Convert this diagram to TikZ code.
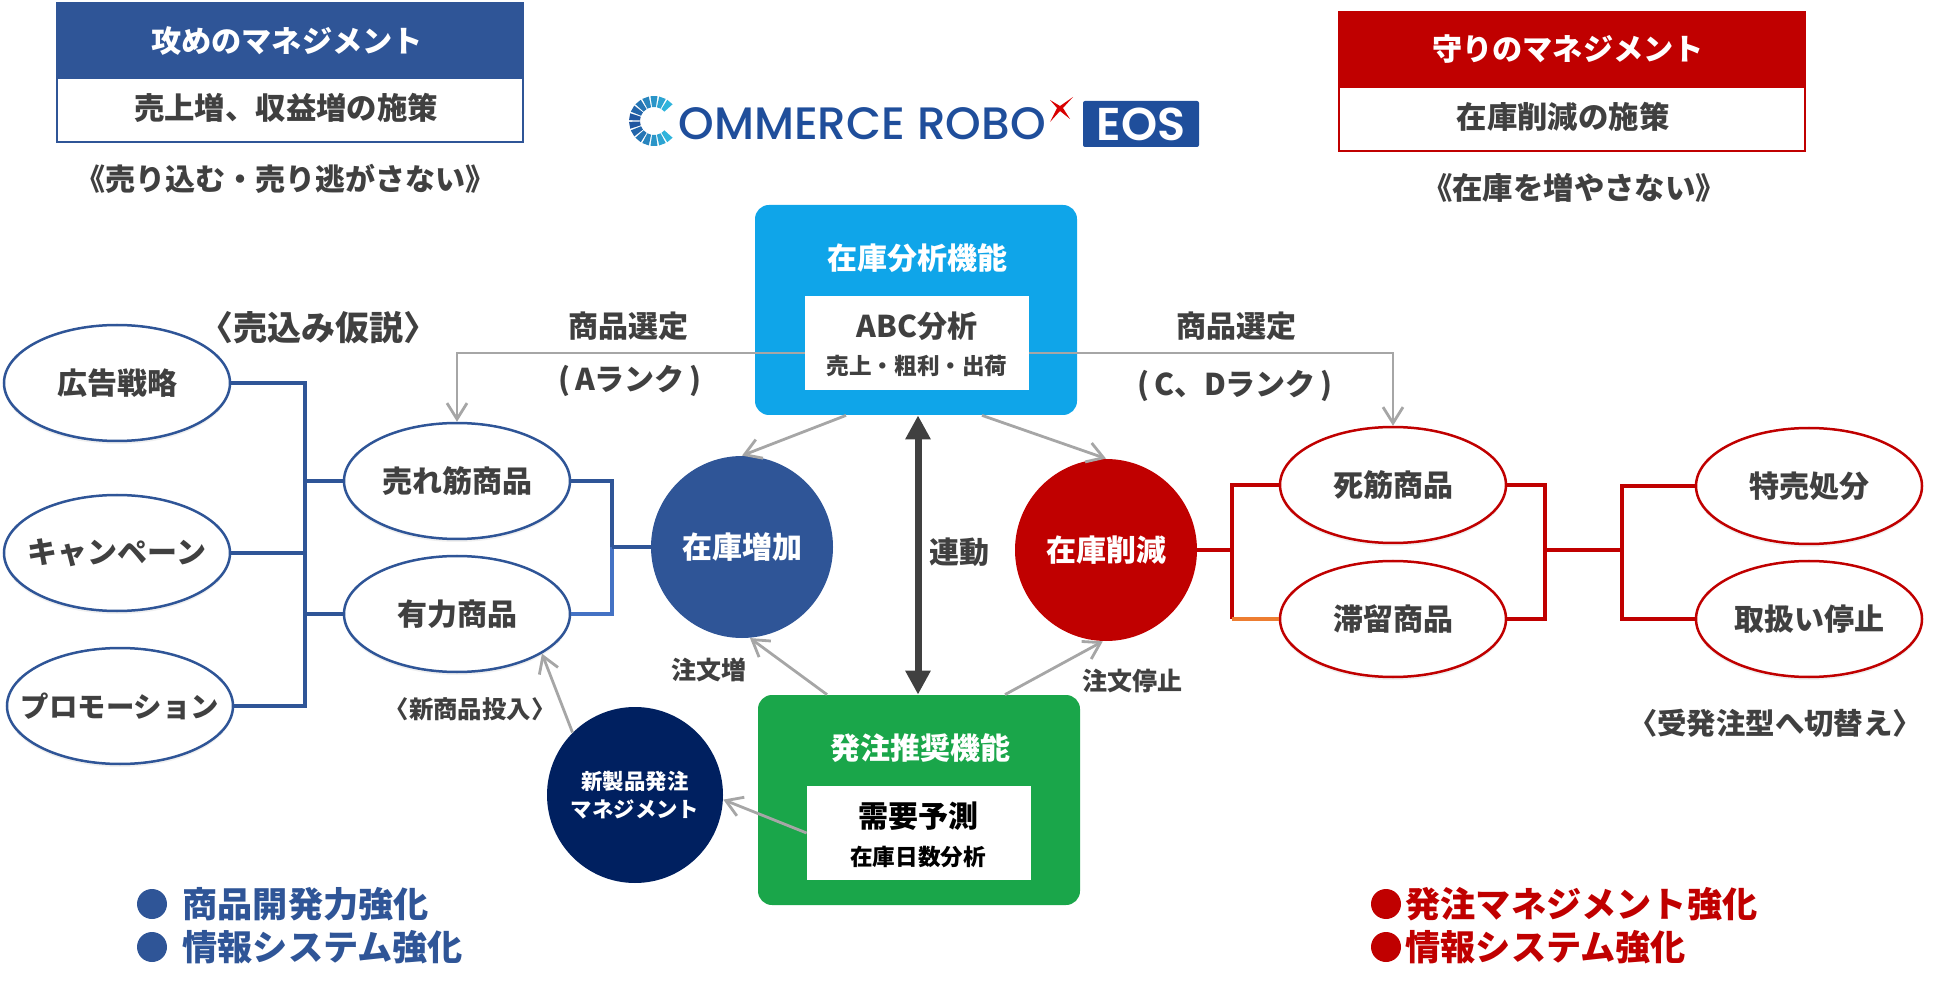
\documentclass[tikz,border=0pt]{standalone}
\usepackage{fontspec}
\setmainfont{Noto Sans CJK JP}
\newfontfamily\logofont[UprightFont={* Medium},BoldFont={* SemiBold}]{Poppins}
\usetikzlibrary{arrows.meta,shapes.geometric,shadows}
\definecolor{atkblue}{HTML}{2F5597}
\definecolor{atklight}{HTML}{4472C4}
\definecolor{defred}{HTML}{C00000}
\definecolor{inkgray}{HTML}{404040}
\definecolor{linegray}{HTML}{A6A6A6}
\definecolor{skyfn}{HTML}{0FA5E9}
\definecolor{greenfn}{HTML}{1AA64A}
\definecolor{navyfn}{HTML}{002060}
\definecolor{logoblue}{HTML}{1F4E9B}
\definecolor{logocyan}{HTML}{2FB4DC}
\definecolor{orangeseg}{HTML}{ED7D31}
\newcommand{\fsz}[1]{\fontsize{#1}{#1}\selectfont\bfseries}
\begin{document}
\begin{tikzpicture}[x=.5pt,y=-.5pt,>={Straight Barb[length=8pt,width=10pt]},
  txt/.style={text=inkgray,font=\fsz{15},inner sep=0pt},
  oval/.style={ellipse,draw=#1,line width=1.25pt,fill=white,minimum width=113pt,minimum height=58pt,inner xsep=-25pt,inner ysep=-10pt,
    text=inkgray,font=\fsz{15},drop shadow={opacity=.12,shadow xshift=0pt,shadow yshift=-1.5pt}},
  disc/.style={circle,fill=#1,text=white,font=\fsz{15},minimum size=91pt,inner sep=0pt},
  fnbox/.style={rounded corners=7pt,fill=#1,minimum width=161pt,inner sep=0pt},
  inbox/.style={fill=white,minimum width=112pt,minimum height=47pt,inner sep=0pt},
  head/.style={fill=#1,minimum width=234pt,minimum height=38pt,inner sep=0pt},
  sub/.style={draw=#1,line width=1.1pt,fill=white,minimum width=233pt,minimum height=32pt,inner sep=0pt},
  bar/.style={draw=#1,line width=2pt},
  thin/.style={draw=linegray,line width=1.4pt,->},
  dot/.style={circle,fill=#1,minimum size=15pt,inner sep=0pt},
  note/.style={text=#1,font=\fsz{17.6},inner sep=0pt,anchor=west}]
 \useasboundingbox (0,0) rectangle (1950,994);
 % attack and defence headers
 \node[head=atkblue] (atkhead) at (290,40) {};
 \node[txt,text=white,font=\fsz{15.1}] (atktitle) at (287,41) {攻めのマネジメント};
 \node[sub=atkblue] (atksub) at (290,110) {};
 \node[txt,font=\fsz{15.2}] (atksubtxt) at (286,108) {売上増、収益増の施策};
 \node[txt] (atkmotto) at (285,179) {《売り込む・売り逃がさない》};
 \node[head=defred] (defhead) at (1572,49) {};
 \node[txt,text=white,font=\fsz{15.1}] (deftitle) at (1568,49) {守りのマネジメント};
 \node[sub=defred] (defsub) at (1572,119) {};
 \node[txt,font=\fsz{15.2}] (defsubtxt) at (1563,117) {在庫削減の施策};
 \node[txt,font=\fsz{15.2}] (defmotto) at (1574,188) {《在庫を増やさない》};
 % logo
 \foreach \a in {50,70,...,310} {
  \pgfmathsetmacro\mixv{abs(\a-180)/130*100}
  \fill[logocyan!\mixv!logoblue,shift={(654,121)}] (\a-8:14) -- (\a-8:25) -- (\a+8:25) -- (\a+8:14) -- cycle;
 }
 \node[inner sep=0pt,anchor=west,text=logoblue,font=\logofont\fontsize{22.7}{22.7}\selectfont] (logotxt) at (678,124) {OMMERCE ROBO};
 \fill[red!85!black] (1073,97) -- (1063,108) -- (1070,119) -- (1060,111) -- (1050,122) -- (1057,108) -- (1050,100) -- (1060,106) -- cycle;
 \node[fill=logoblue,rounded corners=1pt,text=white,minimum width=58pt,minimum height=23pt,inner sep=0pt,
   font=\logofont\bfseries\fontsize{23}{23}\selectfont] (eos) at (1141,124) {EOS};
 % function boxes
 \node[fnbox=skyfn,minimum height=105pt] (analysis) at (916,310) {};
 \node[txt,text=white] (analysistxt) at (917,258) {在庫分析機能};
 \node[inbox] (abc) at (917,343) {};
 \node[txt] (abctxt) at (917,326) {ABC分析};
 \node[txt,font=\fsz{11.3}] (abcsub) at (917,366) {売上・粗利・出荷};
 \node[fnbox=greenfn,minimum height=105pt] (recommend) at (919,800) {};
 \node[txt,text=white] (recommendtxt) at (920,748) {発注推奨機能};
 \node[inbox] (demand) at (919,833) {};
 \node[txt,text=black] (demandtxt) at (918,816) {需要予測};
 \node[txt,text=black,font=\fsz{11.3}] (demandsub) at (918,857) {在庫日数分析};
 % left ovals
 \node[oval=atkblue] (adv) at (117,383) {広告戦略};
 \node[oval=atkblue] (camp) at (117,553) {キャンペーン};
 \node[oval=atkblue,font=\fsz{14.2}] (promo) at (120,706) {プロモーション};
 \node[oval=atkblue] (ureru) at (457,481) {売れ筋商品};
 \node[oval=atkblue] (yuryoku) at (457,614) {有力商品};
 % right ovals
 \node[oval=defred] (shisuji) at (1393,485) {死筋商品};
 \node[oval=defred] (teitai) at (1393,619) {滞留商品};
 \node[oval=defred] (tokubai) at (1809,486) {特売処分};
 \node[oval=defred] (toriatsu) at (1809,619) {取扱い停止};
 % centre discs
 \node[disc=atkblue] (inc) at (742,547) {在庫増加};
 \node[disc=defred] (dec) at (1106,550) {在庫削減};
 \node[disc=navyfn,minimum size=88pt,font=\fsz{10.7},align=center] (navy) at (635,795) {新製品発注\\[3pt]マネジメント};
 % blue brackets
 \coordinate (busa) at (305,0);
 \coordinate (busb) at (612,0);
 \draw[bar=atkblue] (adv.east) -- (adv.east -| busa) -- (promo.east -| busa) -- (promo.east);
 \draw[bar=atkblue] (camp.east) -- (camp.east -| busa);
 \draw[bar=atkblue] (ureru.west) -- (ureru.west -| busa);
 \draw[bar=atkblue] (yuryoku.west) -- (yuryoku.west -| busa);
 \draw[bar=atkblue] (ureru.east) -- (ureru.east -| busb) -- (inc.west -| busb);
 \draw[bar=atklight] (inc.west -| busb) -- (yuryoku.east -| busb) -- (yuryoku.east);
 \draw[bar=atkblue] (inc.west) -- (inc.west -| busb);
 % red brackets
 \coordinate (busc) at (1232,0);
 \coordinate (busd) at (1545,0);
 \coordinate (buse) at (1622,0);
 \draw[bar=defred] (dec.east) -- (dec.east -| busc);
 \draw[bar=defred] (shisuji.west) -- (shisuji.west -| busc) -- (teitai.west -| busc);
 \draw[bar=orangeseg] (teitai.west -| busc) -- (teitai.west);
 \draw[bar=defred] (shisuji.east) -- (shisuji.east -| busd) -- (teitai.east -| busd) -- (teitai.east);
 \draw[bar=defred] (dec.east -| busd) -- (dec.east -| buse);
 \draw[bar=defred] (tokubai.west) -- (tokubai.west -| buse) -- (toriatsu.west -| buse) -- (toriatsu.west);
 % gray arrows
 \draw[thin] ([yshift=-5pt]abc.west) -| (ureru.north);
 \draw[thin] ([yshift=-5pt]abc.east) -| (shisuji.north);
 \draw[thin] ([xshift=-35pt]analysis.south) -- (inc.north);
 \draw[thin] ([xshift=33pt]analysis.south) -- (dec.north);
 \draw[thin] ([xshift=-46pt]recommend.north) -- (inc.-85);
 \draw[thin] ([xshift=43pt]recommend.north) -- (dec.-92);
 \draw[thin] (navy.135) -- (yuryoku.-25);
 \draw[thin] (demand.west) -- (navy.-3);
 \draw[draw=inkgray,line width=3.5pt,{Triangle[length=12pt,width=12pt]}-{Triangle[length=12pt,width=12pt]}]
   ([xshift=1pt]analysis.south) -- ([xshift=1pt]analysis.south |- recommend.north);
 % labels
 \node[txt] (sela) at (628,326) {商品選定};
 \node[txt] (ranka) at (630,381) {(\,Aランク\,)};
 \node[txt] (selc) at (1236,326) {商品選定};
 \node[txt] (rankc) at (1235,386) {(\,C、Dランク\,)};
 \node[txt,font=\fsz{17}] (hypo) at (318,328) {〈売込み仮説〉};
 \node[txt] (rendo) at (959,552) {連動};
 \node[txt,font=\fsz{12.5}] (orderup) at (709,670) {注文増};
 \node[txt,font=\fsz{12.5}] (orderstop) at (1132,681) {注文停止};
 \node[txt,font=\fsz{12.2}] (newitem) at (470,709) {〈新商品投入〉};
 \node[txt,font=\fsz{14.7}] (switchto) at (1775,723) {〈受発注型へ切替え〉};
 % bottom notes
 \node[dot=atkblue] (dota) at (152,904) {};
 \node[dot=atkblue] (dotb) at (152,947) {};
 \node[note=atkblue] (notea) at (182,904) {商品開発力強化};
 \node[note=atkblue] (noteb) at (182,947) {情報システム強化};
 \node[dot=defred] (dotc) at (1386,904) {};
 \node[dot=defred] (dotd) at (1386,947) {};
 \node[note=defred] (notec) at (1405,904) {発注マネジメント強化};
 \node[note=defred] (noted) at (1405,947) {情報システム強化};
\end{tikzpicture}
\end{document}
